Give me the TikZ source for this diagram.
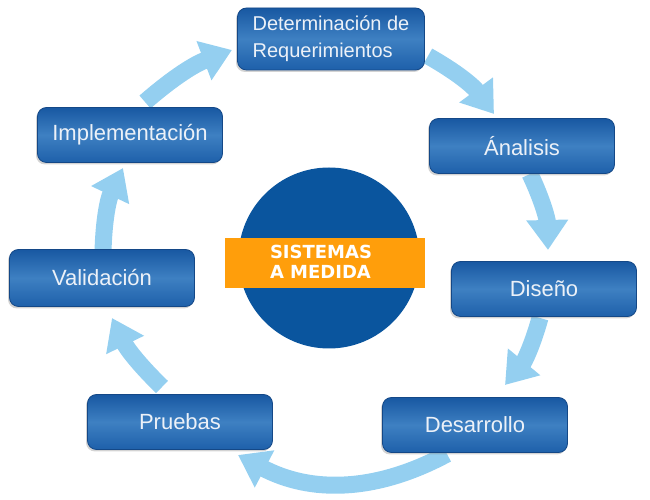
\documentclass[tikz,border=0pt]{standalone}
\usepackage{fontspec}
\setmainfont{Liberation Sans}
\newfontfamily\centrofont{DejaVu Sans}
\usetikzlibrary{arrows.meta,shadows}
\definecolor{cajaarriba}{RGB}{24,88,162}
\definecolor{cajamedio}{RGB}{62,128,194}
\definecolor{cajaabajo}{RGB}{30,96,170}
\definecolor{cajaborde}{RGB}{20,72,135}
\definecolor{cajatexto}{RGB}{236,241,248}
\definecolor{flechaazul}{RGB}{148,207,240}
\definecolor{circuloazul}{RGB}{10,85,158}
\definecolor{bandanaranja}{RGB}{255,158,11}
\begin{document}
\begin{tikzpicture}[x=1pt,y=1pt,
	etapa/.style={rounded corners=9pt, draw=cajaborde, line width=0.8pt,
		top color=cajaarriba, bottom color=cajaabajo, middle color=cajamedio,
		text=cajatexto, font=\fontsize{22}{27}\selectfont, align=center,
		inner sep=0pt, minimum width=185pt, minimum height=55pt,
		drop shadow={shadow xshift=-1.5pt, shadow yshift=-2pt, opacity=0.35}},
	flecha/.style={draw=flechaazul, line width=17pt, -{Triangle[width=40pt,length=30pt]}}]
	\useasboundingbox (0,0) rectangle (650,500);
	% extremos de las flechas
	\coordinate (f1a) at (428,444); \coordinate (f1b) at (494,386);
	\coordinate (f2a) at (530,326); \coordinate (f2b) at (548,250);
	\coordinate (f3a) at (540,182); \coordinate (f3b) at (505,115);
	\coordinate (f4a) at (447,46);  \coordinate (f4b) at (238,45);
	\coordinate (f5a) at (162,113); \coordinate (f5b) at (112,182);
	\coordinate (f6a) at (103,248); \coordinate (f6b) at (123,332);
	\coordinate (f7a) at (145,398); \coordinate (f7b) at (232,450);
	\draw[flecha] (f1a) to[bend left=12] (f1b);
	\draw[flecha] (f2a) to[bend left=12] (f2b);
	\draw[flecha] (f3a) to[bend left=12] (f3b);
	\draw[flecha] (f4a) to[bend left=28] (f4b);
	\draw[flecha] (f5a) to[bend left=10] (f5b);
	\draw[flecha] (f6a) to[bend left=12] (f6b);
	\draw[flecha] (f7a) to[bend left=10] (f7b);
	% etapas
	\node[etapa, minimum width=187pt, minimum height=62pt, font=\fontsize{20}{27}\selectfont, align=left] (det) at (331,461) {Determinación de\\Requerimientos};
	\node[etapa] (ana) at (522,354) {Ánalisis};
	\node[etapa] (dis) at (544,211) {Diseño};
	\node[etapa] (des) at (475,75) {Desarrollo};
	\node[etapa] (pru) at (180,78) {Pruebas};
	\node[etapa, minimum height=57pt] (val) at (102,222) {Validación};
	\node[etapa] (imp) at (130,365) {Implementación};
	% centro
	\node[circle, fill=circuloazul, minimum size=181pt, inner sep=0pt] (circ) at (329,242) {};
	\node[fill=bandanaranja, minimum width=200pt, minimum height=50pt, inner sep=0pt] (banda) at (325,237) {};
	\node[text=white, font=\centrofont\bfseries\fontsize{18}{20}\selectfont, align=left] (titulo) at (321,238) {SISTEMAS\\A MEDIDA};
\end{tikzpicture}
\end{document}
